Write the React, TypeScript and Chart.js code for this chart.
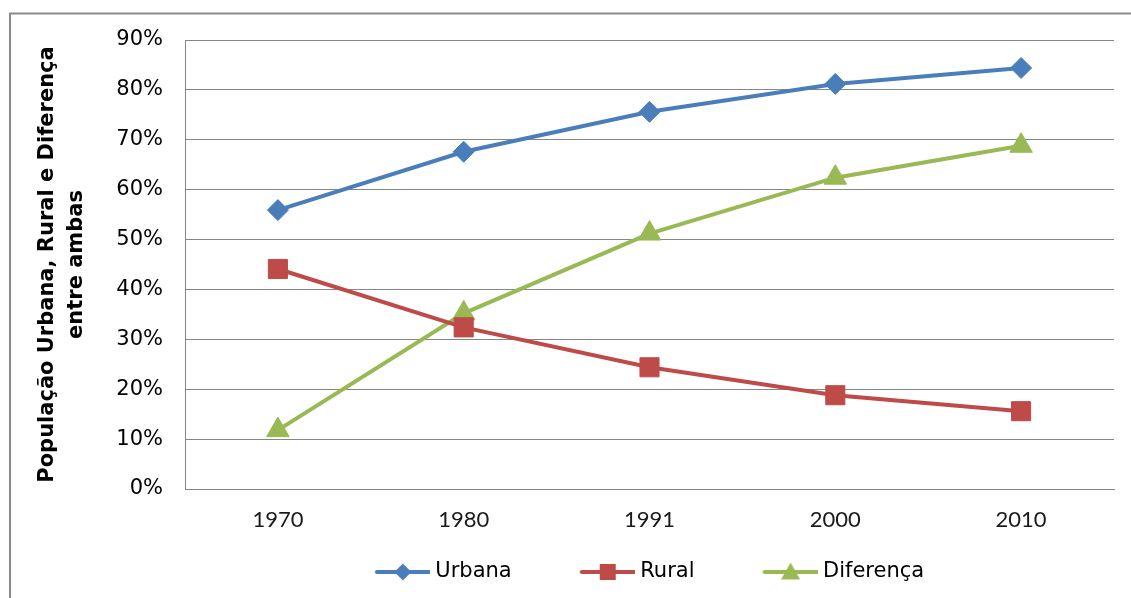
import React, { useEffect, useRef } from "react";
import { Chart, registerables } from "chart.js";

Chart.register(...registerables);

const years = ["1970", "1980", "1991", "2000", "2010"];
const urbana = [55.9, 67.6, 75.6, 81.2, 84.4];
const rural = [44.1, 32.4, 24.4, 18.8, 15.6];
const diferenca = [11.8, 35.2, 51.2, 62.4, 68.8];

const yTitleLines = ["População Urbana, Rural e Diferença", "entre ambas"];
const seriesNames = ["Urbana", "Rural", "Diferença"];
const seriesColors = ["#4A7EBB", "#BE4B48", "#98B954"];
const seriesStyles = ["rectRot", "rect", "triangle"];
const seriesRadius = [10.5, 13.5, 13];

function makeLegendIcon(color: string, style: string): HTMLCanvasElement {
  const c = document.createElement("canvas");
  c.width = 60;
  c.height = 24;
  const ctx = c.getContext("2d")!;
  ctx.strokeStyle = color;
  ctx.fillStyle = color;
  ctx.lineWidth = 4;
  ctx.lineCap = "round";
  ctx.beginPath();
  ctx.moveTo(7, 12);
  ctx.lineTo(59, 12);
  ctx.stroke();
  const cx = 33;
  const cy = 12;
  ctx.beginPath();
  if (style === "rectRot") {
    ctx.moveTo(cx, cy - 8.5);
    ctx.lineTo(cx + 8.5, cy);
    ctx.lineTo(cx, cy + 8.5);
    ctx.lineTo(cx - 8.5, cy);
  } else if (style === "rect") {
    ctx.rect(cx - 8, cy - 8, 16, 16);
  } else {
    ctx.moveTo(cx, cy - 9.5);
    ctx.lineTo(cx + 9.5, cy + 7.5);
    ctx.lineTo(cx - 9.5, cy + 7.5);
  }
  ctx.closePath();
  ctx.fill();
  return c;
}

const borderPlugin = {
  id: "outerBorder",
  beforeDraw(chart: any) {
    const ctx = chart.ctx;
    ctx.save();
    ctx.fillStyle = "#ffffff";
    ctx.fillRect(0, 0, chart.width, chart.height);
    ctx.strokeStyle = "#8a8a8a";
    ctx.lineWidth = 2;
    ctx.strokeRect(10, 13.5, 1200, 700);
    ctx.restore();
  },
};

// Let the legend box overlap the axis band so its (large) label padding
// can be used for horizontal item spacing.
const legendShiftPlugin = {
  id: "legendShift",
  afterLayout(chart: any) {
    const lg = chart.legend;
    if (!lg) return;
    const newTop = chart.chartArea.bottom + 4.5;
    lg.top = newTop;
    lg.bottom = chart.height;
    lg.height = lg.bottom - lg.top;
  },
};

export default function App() {
  const ref = useRef<HTMLCanvasElement | null>(null);

  useEffect(() => {
    if (!ref.current) return;
    const seriesData = [urbana, rural, diferenca];
    const icons = seriesColors.map((c, i) => makeLegendIcon(c, seriesStyles[i]));
    const chart = new Chart(ref.current, {
      type: "line",
      data: {
        labels: years,
        datasets: seriesNames.map((name, i) => ({
          label: name,
          data: seriesData[i],
          borderColor: seriesColors[i],
          backgroundColor: seriesColors[i],
          borderWidth: 4,
          pointStyle: seriesStyles[i] as any,
          pointRadius: seriesRadius[i],
          pointBorderWidth: 1,
          pointBackgroundColor: seriesColors[i],
          pointBorderColor: seriesColors[i],
          tension: 0,
        })),
      },
      options: {
        responsive: false,
        animation: false,
        layout: { padding: { left: 0, right: 17, top: 40, bottom: 5.5 } },
        plugins: {
          title: { display: false },
          tooltip: { enabled: false },
          legend: {
            display: true,
            position: "bottom",
            fullSize: false,
            maxHeight: 53.5,
            labels: {
              usePointStyle: true,
              pointStyleWidth: 50,
              boxHeight: 21,
              padding: 68,
              color: "#000000",
              font: { family: "DejaVu Sans", size: 21 },
              generateLabels: (ch: any) =>
                ch.data.datasets.map((ds: any, i: number) => ({
                  text: ds.label,
                  pointStyle: icons[i],
                  fillStyle: ds.backgroundColor,
                  strokeStyle: ds.borderColor,
                  lineWidth: 0,
                  hidden: false,
                  datasetIndex: i,
                  fontColor: "#000000",
                })),
            },
          },
        },
        scales: {
          x: {
            offset: true,
            grid: { display: false, drawTicks: false },
            border: { display: true, color: "#868686", width: 1 },
            ticks: {
              padding: 18,
              color: "#1a1a1a",
              font: { family: "Lato", size: 22 },
            },
            afterFit: (scale: any) => {
              scale.height = 50;
            },
          },
          y: {
            min: 0,
            max: 90,
            grid: { color: "#868686", lineWidth: 1, drawTicks: false },
            border: { display: true, color: "#868686", width: 1 },
            ticks: {
              stepSize: 10,
              padding: 22,
              color: "#000000",
              font: { family: "DejaVu Sans", size: 21 },
              callback: (v: any) => v + "%",
            },
            title: {
              display: true,
              text: yTitleLines,
              color: "#000000",
              padding: { top: 33.5, bottom: 0 },
              font: { family: "DejaVu Sans", size: 21, weight: "bold", lineHeight: "29px" },
            },
            afterFit: (scale: any) => {
              scale.width = 185;
            },
          },
        },
      },
      plugins: [borderPlugin, legendShiftPlugin],
    });
    return () => chart.destroy();
  }, []);

  return (
    <div style={{ position: "absolute", left: 0, top: 0, width: 1131, height: 598 }}>
      <canvas ref={ref} width={1131} height={598} style={{ display: "block" }} />
    </div>
  );
}
